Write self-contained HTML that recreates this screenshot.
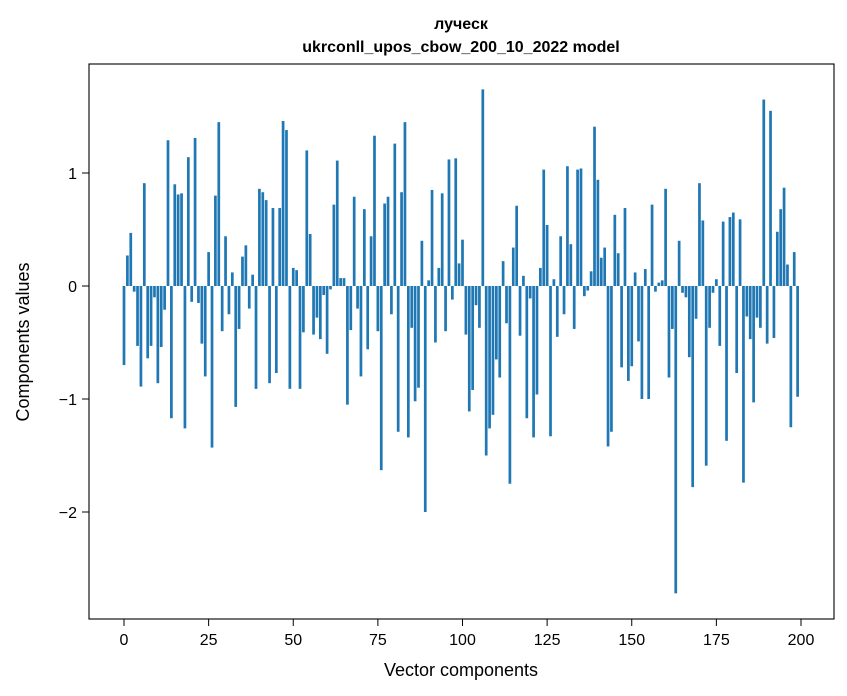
<!DOCTYPE html>
<html><head><meta charset="utf-8"><style>
body{margin:0;background:#fff;}
svg{display:block;font-family:"Liberation Sans","DejaVu Sans",sans-serif;}
</style></head><body>
<svg id="chart" width="847" height="696" viewBox="0 0 847 696" xmlns="http://www.w3.org/2000/svg">
<rect width="847" height="696" fill="#fff"/>
<text x="461" y="29" text-anchor="middle" font-size="16" font-weight="bold">луческ</text>
<text x="461" y="52" text-anchor="middle" font-size="16" font-weight="bold">ukrconll_upos_cbow_200_10_2022 model</text>
<g id="bars"></g>
<g id="axes"></g>
<rect x="89" y="64" width="745" height="555" fill="none" stroke="#000" stroke-width="1.1"/>
<text x="461" y="676" text-anchor="middle" font-size="18">Vector components</text>
<text transform="translate(29,342) rotate(-90)" text-anchor="middle" font-size="18">Components values</text>
</svg>
<script>
const values = [-0.70,0.27,0.47,-0.05,-0.53,-0.89,0.91,-0.64,-0.53,-0.10,-0.86,-0.54,-0.21,1.29,-1.17,0.90,0.81,0.82,-1.26,1.14,
-0.14,1.31,-0.15,-0.51,-0.80,0.30,-1.43,0.80,1.45,-0.40,0.44,-0.25,0.12,-1.07,-0.38,0.26,0.36,-0.20,0.10,-0.91,
0.86,0.83,0.76,-0.86,0.69,-0.77,0.69,1.46,1.38,-0.91,0.16,0.14,-0.91,-0.41,1.20,0.46,-0.43,-0.28,-0.47,-0.08,
-0.60,-0.03,0.72,1.11,0.07,0.07,-1.05,-0.39,0.79,-0.20,-0.80,0.68,-0.56,0.44,1.33,-0.40,-1.63,0.73,0.79,-0.25,
1.26,-1.29,0.83,1.45,-1.34,-0.37,-1.02,-0.90,0.40,-2.00,0.05,0.85,-0.50,0.16,0.82,-0.40,1.12,-0.12,1.13,0.20,
0.41,-0.43,-1.11,-0.92,-0.17,-0.37,1.74,-1.50,-1.26,-1.14,-0.65,-0.81,0.22,-0.33,-1.75,0.34,0.71,-0.44,0.09,-1.17,
-0.11,-1.34,-0.96,0.16,1.03,0.54,-1.33,0.06,-0.45,0.44,-0.25,1.06,0.37,-0.38,1.03,1.04,-0.09,-0.04,0.13,1.41,
0.94,0.25,0.34,-1.42,-1.29,0.63,0.29,-0.72,0.69,-0.84,-0.71,0.12,-0.49,-1.00,0.15,-1.00,0.72,-0.05,0.03,0.05,
0.86,-0.81,-0.38,-2.72,0.40,-0.06,-0.10,-0.63,-1.78,-0.29,0.91,0.58,-1.59,-0.37,-0.06,0.06,-0.53,0.57,-1.37,0.61,
0.65,-0.77,0.59,-1.74,-0.27,-0.47,-1.03,-0.28,-0.37,1.65,-0.51,1.55,-0.46,0.48,0.68,0.87,0.19,-1.25,0.30,-0.98];
const xTicks = [0,25,50,75,100,125,150,175,200];
const yTicks = [-2,-1,0,1];
const yTickLabels = ["\u22122","\u22121","0","1"];
const NS="http://www.w3.org/2000/svg";
function xs(v){return 124 + (v)*3.385;}
function ys(v){return 286 - v*113;}
const bars=document.getElementById('bars');
values.forEach((v,i)=>{
  const r=document.createElementNS(NS,'rect');
  
  
  const x0=xs(i-0.4), x1=xs(i+0.4);
  r.setAttribute('x',x0);
  r.setAttribute('width',x1-x0);
  r.setAttribute('y',Math.min(ys(v),ys(0)));
  r.setAttribute('height',Math.abs(ys(v)-ys(0)));
  r.setAttribute('fill','#1f77b4');
  bars.appendChild(r);
});
const axes=document.getElementById('axes');
xTicks.forEach(t=>{
  const l=document.createElementNS(NS,'line');
  
  
  l.setAttribute('x1',xs(t));l.setAttribute('x2',xs(t));
  l.setAttribute('y1',619);l.setAttribute('y2',626);
  l.setAttribute('stroke','#000');
  axes.appendChild(l);
  const tx=document.createElementNS(NS,'text');
  
  
  tx.setAttribute('x',xs(t));tx.setAttribute('y',645);
  tx.setAttribute('text-anchor','middle');tx.setAttribute('font-size','16');
  tx.textContent=t;
  axes.appendChild(tx);
});
yTicks.forEach((t,i)=>{
  const l=document.createElementNS(NS,'line');
  
  
  l.setAttribute('x1',82);l.setAttribute('x2',89);
  l.setAttribute('y1',ys(t));l.setAttribute('y2',ys(t));
  l.setAttribute('stroke','#000');
  axes.appendChild(l);
  const tx=document.createElementNS(NS,'text');
  
  
  tx.setAttribute('x',77);tx.setAttribute('y',ys(t)+6);
  tx.setAttribute('text-anchor','end');tx.setAttribute('font-size','16');
  tx.textContent=yTickLabels[i];
  axes.appendChild(tx);
});
</script>
</body></html>
